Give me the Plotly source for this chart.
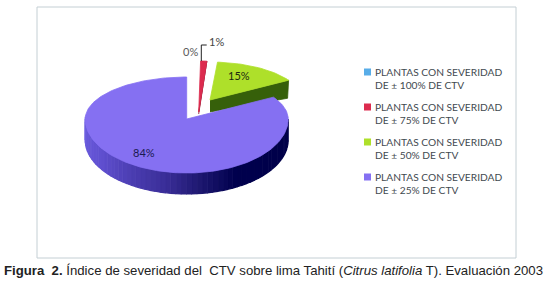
import math
import plotly.graph_objects as go

# ---- data ----
categories = [
    "PLANTAS CON SEVERIDAD<br>DE ± 100% DE CTV",
    "PLANTAS CON SEVERIDAD<br>DE ± 75% DE CTV",
    "PLANTAS CON SEVERIDAD<br>DE ± 50% DE CTV",
    "PLANTAS CON SEVERIDAD<br>DE ± 25% DE CTV",
]
values = [0.3, 1, 15, 83.7]
value_labels = ["0%", "1%", "15%", "84%"]
colors = ["#58ADE8", "#DC2B4E", "#AEE02A", "#8570F2"]
caption = ("<b>Figura\u00a0\u00a02.</b> Índice de severidad del\u00a0\u00a0CTV sobre lima Tahití "
           "(<i>Citrus latifolia</i> T). Evaluación 2003")

# ---- geometry of the drawing (pixels) ----
# apex x, apex y, rx, ry far half, ry near half, wall depth
SLICE_GEOM = [
    (198.7, 112, 100, 51, 51, 10),
    (198.7, 112, 100, 51, 51, 10),
    (210, 100, 92, 38, 38, 15),
    (186.7, 119, 101.5, 42, 54, 21),
]
WALL_STOPS = [(90, (0, 0, 72)), (150, (0, 0, 78)), (171, (30, 24, 112)),
              (190, (58, 46, 152)), (235, (96, 80, 208)), (272, (110, 96, 225))]


def rim(g, deg):
    ax, ay, rx, rt, rb, _ = g
    t = math.radians(deg)
    c = math.cos(t)
    return ax + rx * math.sin(t), ay - c * (rt if c > 0 else rb)


def arc(g, a, b):
    n = max(2, int(abs(b - a) / 1.5))
    return [rim(g, a + (b - a) * i / n) for i in range(n + 1)]


def wall_color(deg):
    for (a, ca), (b, cb) in zip(WALL_STOPS, WALL_STOPS[1:]):
        if a <= deg <= b:
            f = (deg - a) / (b - a)
            return "rgb(%d,%d,%d)" % tuple(ca[i] + (cb[i] - ca[i]) * f for i in range(3))
    return "rgb(0,0,72)"


def poly(fig, pts, color, lw=0.8):
    fig.add_trace(go.Scatter(x=[p[0] for p in pts], y=[p[1] for p in pts], mode="lines",
                             fill="toself", fillcolor=color, line=dict(color=color, width=lw),
                             hoverinfo="skip", showlegend=False))


fig = go.Figure()
total = sum(values)
angles = [0]
for v in values:
    angles.append(angles[-1] + v / total * 360)

# purple outer wall, banded
g = SLICE_GEOM[3]
for d in range(90, 272, 3):
    pts = arc(g, d, d + 3)
    poly(fig, pts + [(x, y + g[5]) for x, y in reversed(pts)], wall_color(d), 1.2)

# green cut face
g = SLICE_GEOM[2]
tip = rim(g, angles[3])
poly(fig, [(g[0], g[1]), tip, (tip[0] - 1, tip[1] + 18), (g[0], g[1] + 12)], "#36600A")

# red side sliver
g = SLICE_GEOM[1]
tip = rim(g, angles[2])
poly(fig, [(g[0], g[1]), tip, (tip[0] - 0.5, tip[1] + 5), (g[0], g[1] + 2)], "#8E1A32")

# top faces
for i in (3, 2, 1):
    g = SLICE_GEOM[i]
    poly(fig, [(g[0], g[1])] + arc(g, angles[i], angles[i + 1]) + [(g[0], g[1])], colors[i])

# leader line of the 1% label
fig.add_trace(go.Scatter(x=[201.3, 201.3, 206.7], y=[61, 45, 45], mode="lines",
                         line=dict(color="#222222", width=1), hoverinfo="skip", showlegend=False))

# legend keys
LEG_X, LEG_Y = [367.5] * 4, [72, 107, 142, 177]
for c, x, y in zip(colors, LEG_X, LEG_Y):
    fig.add_trace(go.Scatter(x=[x], y=[y], mode="markers",
                             marker=dict(symbol="square", size=7, color=c),
                             hoverinfo="skip", showlegend=False))

ann = []
for t, y in zip(categories, LEG_Y):
    ann.append(dict(x=373, y=y + 6, text=t, xanchor="left", yanchor="middle", showarrow=False,
                    align="left", font=dict(family="Lato", size=10.2, color="#3F4A4F")))
LABEL_POS = [(190, 51.7, "#5A5A5A"), (216, 41, "#444444"), (239, 75, "#1C2A10"), (143.7, 152.7, "#1A1A50")]
for t, (x, y, c) in zip(value_labels, LABEL_POS):
    ann.append(dict(x=x, y=y, text=t, xanchor="center", yanchor="middle", showarrow=False,
                    font=dict(family="Lato", size=11, color=c)))
ann.append(dict(x=2, y=270, text=caption, xanchor="left", yanchor="middle", showarrow=False,
                font=dict(family="Liberation Sans", size=13.2, color="#222222")))

fig.update_layout(
    width=550, height=281, margin=dict(l=0, r=0, t=0, b=0),
    paper_bgcolor="white", plot_bgcolor="white", showlegend=False,
    xaxis=dict(range=[0, 550], visible=False, fixedrange=True),
    yaxis=dict(range=[281, 0], visible=False, fixedrange=True),
    annotations=ann,
    shapes=[dict(type="rect", x0=37, x1=516, y0=7, y1=258,
                 line=dict(color="#C4CFD4", width=1), layer="below")],
)
fig.write_html("out.html", config=dict(displayModeBar=False),
               post_script="document.body.style.margin='0';document.body.style.overflow='hidden';")
